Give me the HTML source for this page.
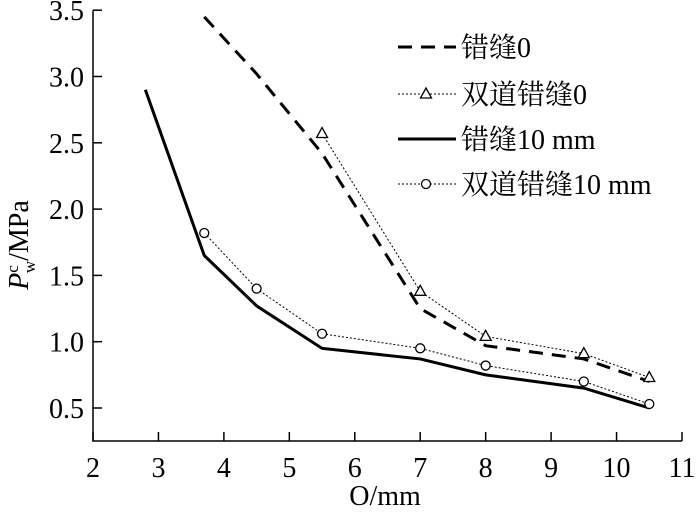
<!DOCTYPE html>
<html><head><meta charset="utf-8"><style>
body{margin:0;background:#fff}
svg text{font-family:"Liberation Serif","Noto Serif CJK SC",serif;fill:#000}
</style></head><body>
<svg id="chart" width="700" height="508">
<g id="axes"></g><g id="series"></g><g id="legend"></g>
</svg>
<script>
const xTicks=[2,3,4,5,6,7,8,9,10,11];
const yTicks=[0.5,1.0,1.5,2.0,2.5,3.0,3.5];
const xSolid=[2.8,3.7,4.5,5.5,7,8,9.5,10.5];
const ySolid=[2.9,1.65,1.27,0.95,0.87,0.75,0.65,0.5];
const xCirc=[3.7,4.5,5.5,7,8,9.5,10.5];
const yCirc=[1.82,1.40,1.06,0.95,0.82,0.70,0.53];
const xDash=[3.7,4.5,5.5,7,8,9.5,10.5];
const yDash=[3.45,3.02,2.42,1.25,0.97,0.87,0.70];
const xTri=[5.5,7,8,9.5,10.5];
const yTri=[2.57,1.38,1.04,0.91,0.73];
const legendLabels=["错缝0","双道错缝0","错缝10 mm","双道错缝10 mm"];
const NS="http://www.w3.org/2000/svg";
const X=v=>93+(v-2)*(682-93)/9;
const Y=v=>408-(v-0.5)*132.6;
const yBase=441;
function mk(tag,attrs,parent){const e=document.createElementNS(NS,tag);for(const k in attrs)e.setAttribute(k,attrs[k]);parent.appendChild(e);return e;}
const axes=document.getElementById('axes'),ser=document.getElementById('series'),leg=document.getElementById('legend');
let a=mk('path',{d:`M${X(2)},${Y(3.5)}V${yBase}H${X(11)}`,fill:'none',stroke:'#000','stroke-width':1.5},axes);


xTicks.forEach(t=>{
 const l=mk('line',{x1:X(t),x2:X(t),y1:yBase,y2:yBase-9,stroke:'#000','stroke-width':1.5},axes);
 
 
 const tx=mk('text',{x:X(t),y:477,'text-anchor':'middle','font-size':28},axes);tx.textContent=t;
 
 
});
yTicks.forEach(t=>{
 const l=mk('line',{x1:X(2),x2:X(2)+9,y1:Y(t),y2:Y(t),stroke:'#000','stroke-width':1.5},axes);
 
 
 const tx=mk('text',{x:84,y:Y(t)+10,'text-anchor':'end','font-size':28},axes);tx.textContent=t.toFixed(1);
 
 
});
let xt=mk('text',{x:385,y:505,'text-anchor':'middle','font-size':28},axes);xt.textContent='O/mm';


let yt=mk('text',{transform:'translate(28,245) rotate(-90)','text-anchor':'middle','font-size':28},axes);
yt.innerHTML='<tspan font-style="italic">P</tspan><tspan font-size="17" dy="-10">c</tspan><tspan font-size="17" dx="-8" dy="17">w</tspan><tspan dy="-7">/MPa</tspan>';


function line(xs,ys,style,name){
 const p=mk('polyline',Object.assign({points:xs.map((x,i)=>X(x)+','+Y(ys[i])).join(' '),fill:'none',stroke:'#000'},style),ser);
 
 
}
line(xDash,yDash,{'stroke-width':3,'stroke-dasharray':'14,9'},'series-cuofeng-0');
line(xTri,yTri,{'stroke-width':1,'stroke-dasharray':'2,2'},'series-double-cuofeng-0');
line(xSolid,ySolid,{'stroke-width':3},'series-cuofeng-10mm');
line(xCirc,yCirc,{'stroke-width':1,'stroke-dasharray':'2,2'},'series-double-cuofeng-10mm');
function tri(cx,cy,parent){return mk('path',{d:`M${cx},${cy-6}L${cx+5.5},${cy+4}L${cx-5.5},${cy+4}Z`,fill:'#fff',stroke:'#000','stroke-width':1.3},parent);}
xTri.forEach((x,i)=>{const t=tri(X(x),Y(yTri[i]),ser);
 
 });
xCirc.forEach((x,i)=>{const c=mk('circle',{cx:X(x),cy:Y(yCirc[i]),r:4.5,fill:'#fff',stroke:'#000','stroke-width':1.3},ser);
 
 });
const ly=[47,94,139,184];
const styles=[{'stroke-width':3,'stroke-dasharray':'14,9'},{'stroke-width':1,'stroke-dasharray':'2,2'},{'stroke-width':3},{'stroke-width':1,'stroke-dasharray':'2,2'}];
legendLabels.forEach((lab,i)=>{
 const l=mk('line',Object.assign({x1:398,x2:456,y1:ly[i],y2:ly[i],stroke:'#000'},styles[i]),leg);
 
 
 if(i===1){const t=tri(426,ly[i],leg);}
 if(i===3){const c=mk('circle',{cx:426,cy:ly[i],r:4.5,fill:'#fff',stroke:'#000','stroke-width':1.3},leg);}
 const tx=mk('text',{x:461,y:ly[i]+10,'font-size':28},leg);tx.textContent=lab;
 
 
});
</script>
</body></html>
